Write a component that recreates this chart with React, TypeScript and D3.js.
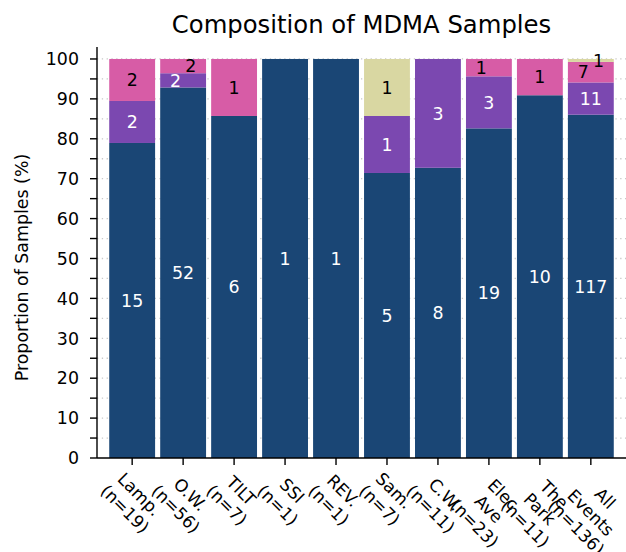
import React from "react";
import * as d3 from "d3";

const groups = ["Lamp.", "O.W.", "TILT", "SSI", "REV.", "Sam.", "C.W.", "Elec Ave", "The Park", "All Events"];
const groupN = [19, 56, 7, 1, 1, 7, 11, 23, 11, 136];
const seriesKeys = ["mdma", "mixA", "mixB", "other"];
const mdma = [15, 52, 6, 1, 1, 5, 8, 19, 10, 117];
const mixA = [2, 2, 0, 0, 0, 1, 3, 3, 0, 11];
const mixB = [2, 2, 1, 0, 0, 0, 0, 1, 1, 7];
const other = [0, 0, 0, 0, 0, 1, 0, 0, 0, 1];
const seriesColors = ["#1a4675", "#7b48b0", "#d75ca6", "#d9d7a2"];
const labelColors = ["#ffffff", "#ffffff", "#000000", "#000000"];
const yTicks = [0, 10, 20, 30, 40, 50, 60, 70, 80, 90, 100];

const W = 626, H = 552;
const FONT = "DejaVu Sans, sans-serif";
const FS = 17.4;
const XFS = 17;

let ctx: CanvasRenderingContext2D | null = null;
function measure(t: string, fs: number) {
  if (!ctx) ctx = document.createElement("canvas").getContext("2d");
  if (!ctx) return t.length * fs * 0.6;
  ctx.font = `${fs}px "DejaVu Sans"`;
  return ctx.measureText(t).width;
}

export default function App() {
  const left = 97, right = 626, top = 47, bottom = 458;
  const x = d3.scaleLinear().domain([-0.69, 9.69]).range([left, right]);
  const y = d3.scaleLinear().domain([0, 103]).range([bottom, top]);
  const bw = x(0.9) - x(0);

  const rows = groups.map((g, i) => {
    const counts = [mdma[i], mixA[i], mixB[i], other[i]];
    const r: any = { group: g, i };
    seriesKeys.forEach((k, j) => (r[k] = (counts[j] / groupN[i]) * 100));
    r.counts = counts;
    return r;
  });
  const stacked = d3.stack().keys(seriesKeys)(rows as any);

  // value labels with alternating offsets for thin segments
  const labels: any[] = [];
  rows.forEach((r, i) => {
    let alt = 0;
    seriesKeys.forEach((k, j) => {
      const c = r.counts[j];
      if (!c) return;
      const seg = stacked[j][i];
      const h = seg[1] - seg[0];
      let off = 0;
      if (h < 6) {
        off = alt % 2 === 0 ? -0.15 : 0.15;
        alt++;
      }
      labels.push({ x: x(i + off), y: y((seg[0] + seg[1]) / 2), text: String(c), color: labelColors[j] });
    });
  });

  const grid = d3.range(5, 101, 5);
  const minor = d3.range(5, 101, 10);
  const lh = XFS * 1.2;

  return (
    <div style={{ position: "absolute", left: 0, top: 0 }}>
      <svg width={W} height={H} style={{ display: "block", background: "#fff" }} fontFamily={FONT}>
        <text x={(left + right) / 2} y={33} textAnchor="middle" fontSize={24.3} fill="#000">
          Composition of MDMA Samples
        </text>
        {grid.map((v) => (
          <line key={"g" + v} x1={left} x2={right} y1={y(v)} y2={y(v)} stroke="#c8c8c8" strokeWidth={1.3} strokeDasharray="1.3,3.5" />
        ))}
        {stacked.map((s, j) =>
          s.map((d, i) => (
            <rect key={`b${j}-${i}`} x={x(i) - bw / 2} width={bw} y={y(d[1])} height={Math.max(0, y(d[0]) - y(d[1]))} fill={seriesColors[j]} />
          ))
        )}
        {labels.map((l, k) => (
          <text key={"l" + k} x={l.x} y={l.y} dy="0.36em" textAnchor="middle" fontSize={FS} fill={l.color}>
            {l.text}
          </text>
        ))}
        {/* axes */}
        <line x1={left} x2={left} y1={top} y2={bottom} stroke="#000" strokeWidth={1.4} />
        <line x1={left} x2={right} y1={bottom} y2={bottom} stroke="#000" strokeWidth={1.4} />
        {yTicks.map((v) => (
          <g key={"y" + v}>
            <line x1={left - 7} x2={left} y1={y(v)} y2={y(v)} stroke="#000" strokeWidth={1.4} />
            <text x={left - 18} y={y(v)} dy="0.36em" textAnchor="end" fontSize={FS} fill="#000">
              {v}
            </text>
          </g>
        ))}
        {minor.map((v) => (
          <line key={"m" + v} x1={left - 7} x2={left} y1={y(v)} y2={y(v)} stroke="#000" strokeWidth={1.4} />
        ))}
        {groups.map((g, i) => {
          const lines = [...g.split(" "), `(n=${groupN[i]})`];
          const wMax = Math.max(...lines.map((t) => measure(t, XFS)));
          const hBlock = lines.length * lh;
          const cy = 466 + (wMax + hBlock) / (2 * Math.SQRT2);
          const cx = x(i);
          return (
            <g key={"x" + i}>
              <line x1={cx} x2={cx} y1={bottom} y2={bottom + 7} stroke="#000" strokeWidth={1.4} />
              <g transform={`translate(${cx},${cy}) rotate(45)`}>
                {lines.map((t, k) => (
                  <text key={k} x={0} y={-hBlock / 2 + k * lh + lh / 2} dy="0.36em" textAnchor="middle" fontSize={XFS} fill="#000">
                    {t}
                  </text>
                ))}
              </g>
            </g>
          );
        })}
        <text transform={`translate(22,${(top + bottom) / 2 + 15}) rotate(-90)`} textAnchor="middle" dy="0.36em" fontSize={FS} fill="#000">
          Proportion of Samples (%)
        </text>
      </svg>
    </div>
  );
}
